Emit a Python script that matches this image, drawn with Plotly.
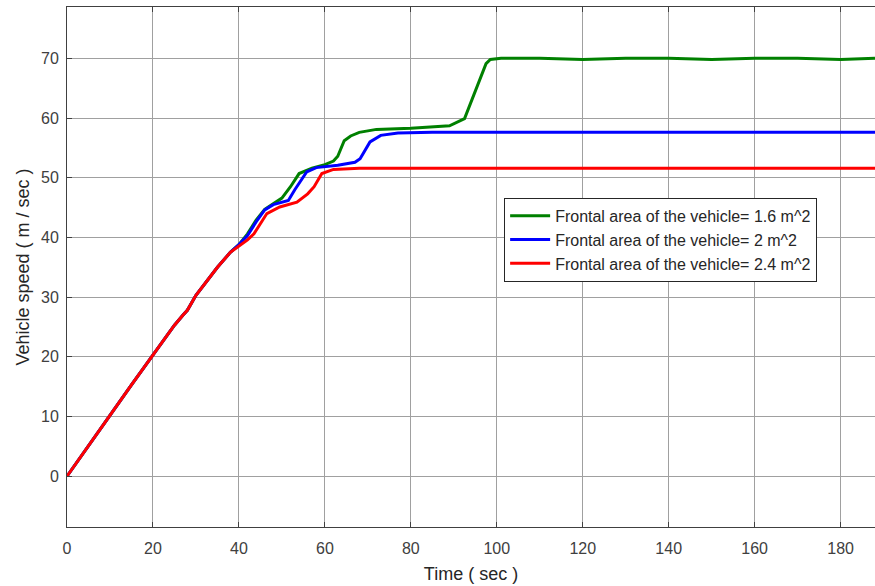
import plotly.graph_objects as go

# shared early acceleration phase
t_common = [0, 5, 10, 15, 20, 22, 25, 27, 28, 30, 31, 33, 35, 38, 40]
v_common = [0, 5.2, 10.2, 15.3, 20.2, 22.3, 25.3, 27.0, 27.8, 30.3, 31.2, 33.0, 35.0, 37.5, 38.8]

t_green = t_common + [42, 44, 46, 47.5, 50, 52, 54, 57, 60, 62, 63, 64.5, 66, 68, 72, 80, 89, 92.5, 95,
                      97.5, 98.5, 101, 110, 120, 130, 140, 150, 160, 170, 180, 188]
v_green = v_common + [40.6, 42.9, 44.7, 45.4, 46.6, 48.5, 50.7, 51.6, 52.2, 52.8, 53.6, 56.2, 57.0, 57.6,
                      58.1, 58.3, 58.7, 59.9, 64.5, 69.1, 69.8, 70.0, 70.0, 69.8, 70.0, 70.0, 69.8, 70.0,
                      70.0, 69.8, 70.0]

t_blue = t_common + [42, 44, 46, 48, 51.5, 53, 55.8, 58, 63, 67, 68.2, 70.5, 73, 77, 85, 120, 188]
v_blue = v_common + [40.3, 42.6, 44.6, 45.5, 46.2, 48.0, 51.0, 51.7, 52.1, 52.6, 53.2, 56.0, 57.1,
                     57.5, 57.6, 57.6, 57.6]

t_red = t_common + [42, 43.5, 46.5, 49.5, 53.5, 56, 57.5, 59.3, 62, 68, 120, 188]
v_red = v_common[:-1] + [38.5] + [39.6, 40.6, 44.0, 45.1, 45.9, 47.3, 48.5, 50.7, 51.4, 51.6, 51.6, 51.6]

names = ["Frontal area of the vehicle= 1.6 m^2",
         "Frontal area of the vehicle= 2 m^2",
         "Frontal area of the vehicle= 2.4 m^2"]
colors = ["#008000", "#0000ff", "#ff0000"]

x_ticks = [0, 20, 40, 60, 80, 100, 120, 140, 160, 180]
y_ticks = [0, 10, 20, 30, 40, 50, 60, 70]

fig = go.Figure()
for t, v, n, c in zip([t_green, t_blue, t_red], [v_green, v_blue, v_red], names, colors):
    fig.add_trace(go.Scatter(x=t, y=v, mode="lines", name=n,
                             line=dict(color=c, width=3)))

font_family = "Liberation Sans, Arial, sans-serif"
fig.update_layout(
    width=875, height=586,
    margin=dict(l=67, r=0, t=7, b=59),
    paper_bgcolor="white", plot_bgcolor="white",
    font=dict(family=font_family, size=16, color="#404040"),
    showlegend=True,
    legend=dict(x=0.541, y=0.633, xanchor="left", yanchor="top",
                bgcolor="white", bordercolor="#262626", borderwidth=1,
                font=dict(size=16, color="#262626"),
                tracegroupgap=0, itemwidth=40),
    xaxis=dict(range=[0, 188], tickvals=x_ticks, showgrid=True, gridcolor="#a0a0a0", gridwidth=1,
               zeroline=False, showline=True, linecolor="#404040", linewidth=1, mirror="ticks",
               ticks="inside", ticklen=5, tickcolor="#404040", ticklabelstandoff=7,
               title=dict(text="Time ( sec )", standoff=11, font=dict(size=18, color="#262626"))),
    yaxis=dict(range=[-8.5, 78.6], tickvals=y_ticks, showgrid=True, gridcolor="#a0a0a0", gridwidth=1,
               zeroline=False, showline=True, linecolor="#404040", linewidth=1, mirror=False,
               ticks="inside", ticklen=5, tickcolor="#404040", ticklabelstandoff=4,
               title=dict(text="Vehicle speed ( m / sec )", standoff=6, font=dict(size=18, color="#262626"))),
)

fig.write_html("out.html")
